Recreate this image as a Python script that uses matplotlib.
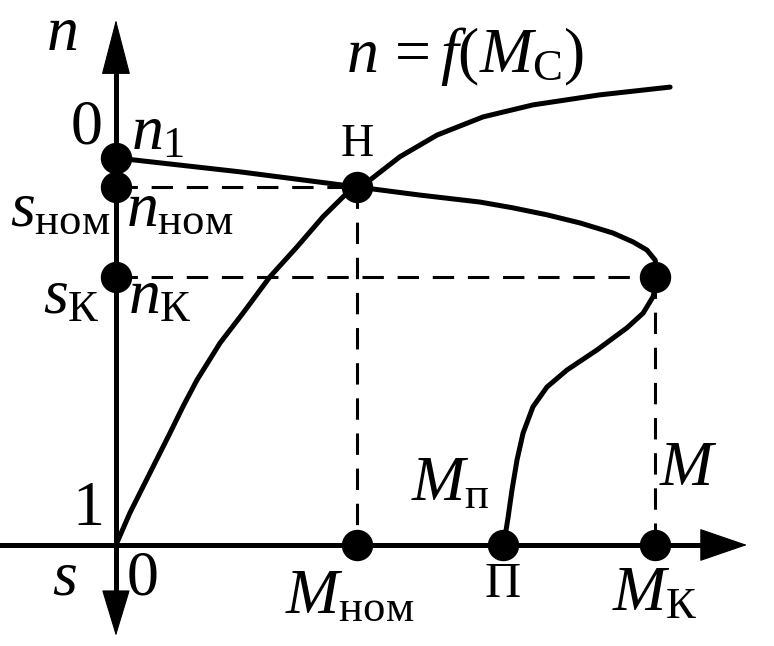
import numpy as np
import matplotlib
matplotlib.use("Agg")
import matplotlib.pyplot as plt

plt.rcParams['font.family'] = ['Liberation Serif', 'DejaVu Serif']
plt.rcParams['mathtext.fontset'] = 'custom'
plt.rcParams['mathtext.rm'] = 'Liberation Serif'
plt.rcParams['mathtext.it'] = 'Liberation Serif:italic'

# -----------------------------
# data (M in units of M_nom, n in units of n1)
# -----------------------------
n_1 = 1.0
n_nom = 0.925
n_k = 0.693
M_nom = 1.0
M_p = 1.606
M_k = 2.238

# motor mechanical characteristic n(M)
motor_M = [0.0, 0.515, 1.0, 1.261, 1.510, 1.647, 1.788, 1.925, 2.062, 2.145,
           2.203, 2.237, 2.249, 2.228, 2.187, 2.120, 1.996, 1.871, 1.788,
           1.730, 1.689, 1.664, 1.643, 1.627, 1.614, 1.606]
motor_n = [1.0, 0.964, 0.925, 0.904, 0.886, 0.871, 0.853, 0.832, 0.806, 0.783,
           0.762, 0.736, 0.693, 0.641, 0.599, 0.561, 0.504, 0.452, 0.408,
           0.357, 0.289, 0.220, 0.142, 0.072, 0.021, 0.0]

# load characteristic n = f(Mc)
load_M = [0.0, 0.058, 0.141, 0.224, 0.280, 0.336, 0.432, 0.527, 0.639, 0.751,
          0.859, 0.971, 1.0, 1.054, 1.178, 1.332, 1.523, 1.730, 2.008, 2.299]
load_n = [0.0, 0.083, 0.186, 0.289, 0.360, 0.426, 0.522, 0.599, 0.693, 0.770,
          0.848, 0.917, 0.925, 0.943, 1.003, 1.059, 1.106, 1.137, 1.163, 1.183]

fig = plt.figure(figsize=(7.74, 6.46), dpi=100)
ax = fig.add_axes([0, 0, 1, 1])
ax.set_xlim(-0.481, 2.730)
ax.set_ylim(-0.261, 1.408)
ax.axis('off')

LW = 3.6

# axes with arrowheads
ax.plot([0, 0], [-0.15, 1.30], color='black', lw=LW)
ax.plot([-0.475, 2.55], [0, 0], color='black', lw=LW)
head = dict(color='black', lw=0.8, mutation_scale=20, shrinkA=0, shrinkB=0)
ax.annotate('', xy=(0, 1.357), xytext=(0, 1.2),
            arrowprops=dict(arrowstyle='-|>,head_length=1.85,head_width=0.48', **head))
ax.annotate('', xy=(0, -0.235), xytext=(0, -0.1),
            arrowprops=dict(arrowstyle='-|>,head_length=1.55,head_width=0.47', **head))
ax.annotate('', xy=(2.618, 0), xytext=(2.4, 0),
            arrowprops=dict(arrowstyle='-|>,head_length=1.6,head_width=0.55', **head))

# dashed guides
dash = dict(color='black', lw=2.2, dashes=(7, 4.5))
ax.plot([0, M_nom], [n_nom, n_nom], **dash)
ax.plot([M_nom, M_nom], [n_nom, 0], **dash)
ax.plot([0, M_k], [n_k, n_k], **dash)
ax.plot([M_k, M_k], [n_k, 0], **dash)

# curves
ax.plot(motor_M, motor_n, color='black', lw=LW, solid_capstyle='round',
        solid_joinstyle='round')
ax.plot(load_M, load_n, color='black', lw=LW, solid_capstyle='round',
        solid_joinstyle='round')

# points
pts_M = [0, 0, 0, M_nom, M_k, M_nom, M_p, M_k]
pts_n = [n_1, n_nom, n_k, n_nom, n_k, 0, 0, 0]
ax.plot(pts_M, pts_n, 'o', color='black', markersize=21.6, zorder=5)

# labels
big = 46
dig = 46
kw = dict(ha='center', va='center', color='black')
ax.text(-0.224, 1.318, '$n$', fontsize=big, **kw)
ax.text(1.448, 1.261, r'$n\, = f(M_{\mathrm{С}})$', fontsize=big, **kw)
ax.text(-0.120, 1.075, '0', fontsize=dig, **kw)
ax.text(0.172, 1.062, '$n_1$', fontsize=big, **kw)
ax.text(1.0, 1.034, 'Н', fontsize=33, **kw)
ax.text(-0.232, 0.862, r'$s_{\mathrm{ном}}$', fontsize=big, **kw)
ax.text(0.266, 0.862, r'$n_{\mathrm{ном}}$', fontsize=big, **kw)
ax.text(-0.183, 0.638, r'$s_{\mathrm{К}}$', fontsize=big, **kw)
ax.text(0.183, 0.638, r'$n_{\mathrm{К}}$', fontsize=big, **kw)
ax.text(-0.116, 0.090, '1', fontsize=dig, **kw)
ax.text(-0.212, -0.090, '$s$', fontsize=big, **kw)
ax.text(0.112, -0.090, '0', fontsize=dig, **kw)
ax.text(0.971, -0.137, r'$M_{\mathrm{ном}}$', fontsize=big, **kw)
ax.text(1.606, -0.103, 'П', fontsize=36, **kw)
ax.text(2.237, -0.129, r'$M_{\mathrm{К}}$', fontsize=big, **kw)
ax.text(1.386, 0.155, r'$M_{\mathrm{п}}$', fontsize=big, **kw)
ax.text(2.373, 0.194, '$M$', fontsize=big, **kw)

fig.savefig('out.png', dpi=100)
